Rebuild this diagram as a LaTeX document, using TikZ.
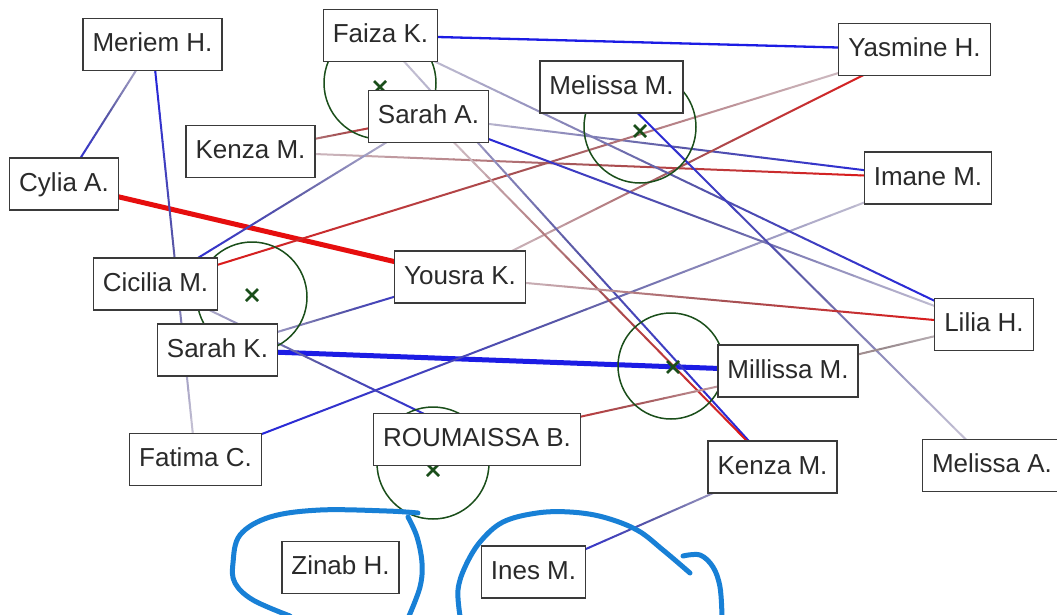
\documentclass[tikz,border=0pt]{standalone}
\usepackage{fontspec}
\setmainfont{Liberation Sans}
\usetikzlibrary{calc}

\pgfdeclarelayer{paper}
\pgfdeclarelayer{edges}
\pgfdeclarelayer{rings}
\pgfdeclarelayer{pen}
\pgfsetlayers{paper,edges,rings,main,pen}

\definecolor{lnblue}{RGB}{28,28,228}
\definecolor{lnred}{RGB}{230,14,14}
\definecolor{lngray}{RGB}{214,210,218}
\definecolor{lnrose}{RGB}{196,160,160}
\definecolor{ringgreen}{RGB}{26,78,26}
\definecolor{penblue}{RGB}{24,128,214}
\definecolor{boxline}{RGB}{58,58,58}
\definecolor{boxtext}{RGB}{42,42,42}

\tikzset{
  person/.style={draw=boxline, line width=1.4pt, fill=white, text=boxtext,
    font=\fontsize{26}{30}\selectfont, inner xsep=9.5pt, inner ysep=0pt,
    text height=19pt, text depth=5pt, minimum height=52pt},
  link/.style={line width=2pt, line cap=round},
  strong/.style={line width=5pt, line cap=round},
  ring/.style={draw=ringgreen, line width=1.5pt},
  crossmark/.style={draw=ringgreen, line width=2.6pt},
  penstroke/.style={draw=penblue, line width=5pt, line cap=round, line join=round}
}

% link whose colour runs from #3 (at node #1) through a darker blend to #4 (at node #2)
\newcommand{\gradedge}[4]{%
  \colorlet{gradmid}{#3!50!#4!74!black}%
  \foreach \k in {1,...,30}{%
    \pgfmathsetmacro{\ta}{(\k-1)/30}%
    \pgfmathsetmacro{\tb}{\k/30}%
    \ifnum\k<16
      \pgfmathtruncatemacro{\pc}{100-200*(\k-0.5)/30}%
      \colorlet{gradseg}{#3!\pc!gradmid}%
    \else
      \pgfmathtruncatemacro{\pc}{200-200*(\k-0.5)/30}%
      \colorlet{gradseg}{gradmid!\pc!#4}%
    \fi
    \draw[link, color=gradseg]
      ($(#1.center)!\ta!(#2.center)$) -- ($(#1.center)!\tb!(#2.center)$);%
  }%
}

% small cross marking the middle of a ring
\newcommand{\ringcross}[1]{%
  \draw[crossmark] #1 ++(-6,-6) -- ++(12,12) #1 ++(-6,6) -- ++(12,-12);%
}

\begin{document}
\begin{tikzpicture}[x=1pt, y=-1pt]
\useasboundingbox (0,0) rectangle (1057,614);
\begin{pgfonlayer}{paper}
  \fill[white] (0,0) rectangle (1057,614);
\end{pgfonlayer}

% people
\node[person] (meriem)    at (152.5,44.5) {Meriem H.};
\node[person] (faiza)     at (380.5,35.5) {Faiza K.};
\node[person] (yasmine)   at (914.5,49.5) {Yasmine H.};
\node[person] (melissam)  at (611.5,87)   {Melissa M.};
\node[person] (saraha)    at (428.5,116.5) {Sarah A.};
\node[person] (kenzat)    at (250.5,151.5) {Kenza M.};
\node[person] (cylia)     at (64,184)     {Cylia A.};
\node[person] (imane)     at (928,178)    {Imane M.};
\node[person] (cicilia)   at (155.5,284)  {Cicilia M.};
\node[person] (yousra)    at (460,277)    {Yousra K.};
\node[person] (sarahk)    at (217.5,350)  {Sarah K.};
\node[person] (lilia)     at (984,324.5)  {Lilia H.};
\node[person] (millissa)  at (788,371)    {Millissa M.};
\node[person] (fatima)    at (195.5,459.5) {Fatima C.};
\node[person] (roumaissa) at (477,439.5)  {ROUMAISSA B.};
\node[person] (kenzab)    at (772.5,467)  {Kenza M.};
\node[person] (melissaa)  at (992,465.5)  {Melissa A.};
\node[person] (zinab)     at (340.5,567.5) {Zinab H.};
\node[person] (ines)      at (533.5,572)  {Ines M.};

% links
\begin{pgfonlayer}{edges}
  \draw[strong, lnred] (cylia.center) -- (yousra.center);
  \draw[strong, lnblue] (sarahk.center) -- (millissa.center);
  \draw[link, lnblue, line width=2.3pt] (faiza.center) -- (yasmine.center);
  \gradedge{meriem}{cylia}{lngray}{lnblue}
  \gradedge{meriem}{fatima}{lnblue}{lngray}
  \gradedge{kenzat}{saraha}{lngray}{lnred}
  \gradedge{kenzat}{imane}{lngray}{lnred}
  \gradedge{saraha}{imane}{lngray}{lnblue}
  \gradedge{cicilia}{yasmine}{lnred}{lngray}
  \gradedge{yousra}{yasmine}{lngray}{lnred}
  \gradedge{imane}{fatima}{lngray}{lnblue}
  \gradedge{cicilia}{saraha}{lnblue}{lngray}
  \gradedge{saraha}{lilia}{lnblue}{lngray}
  \gradedge{faiza}{lilia}{lngray}{lnblue}
  \gradedge{melissam}{melissaa}{lnblue}{lngray}
  \gradedge{faiza}{kenzab}{lngray}{lnblue}
  \gradedge{saraha}{kenzab}{lngray}{lnred}
  \gradedge{yousra}{lilia}{lngray}{lnred}
  \gradedge{millissa}{roumaissa}{lngray}{lnred}
  \gradedge{millissa}{lilia}{lnrose}{lngray}
  \gradedge{sarahk}{yousra}{lngray}{lnblue}
  \gradedge{cicilia}{roumaissa}{lngray}{lnblue}
  \gradedge{kenzab}{ines}{lngray}{lnblue}
\end{pgfonlayer}

% green rings with their centres
\begin{pgfonlayer}{rings}
  \draw[ring] (380,83) circle[radius=56pt];
  \ringcross{(380,87)}
  \draw[ring] (640,127) circle[radius=56pt];
  \ringcross{(640,131)}
  \draw[ring] (252,297) circle[radius=55pt];
  \ringcross{(252,295)}
  \draw[ring] (671,366) circle[radius=53pt];
  \ringcross{(673,367)}
  \draw[ring] (433,463) circle[radius=56pt];
  \ringcross{(433,470)}
\end{pgfonlayer}

% hand-drawn loops
\begin{pgfonlayer}{pen}
  \draw[penstroke] plot[smooth, tension=0.6] coordinates
    {(418,513) (387,511) (320,510) (270,517) (240,535) (233,563) (235,583) (253,600) (290,616)};
  \draw[penstroke] plot[smooth, tension=0.6] coordinates
    {(408,517) (417,537) (422,563) (420,587) (409,616)};
  \draw[penstroke] plot[smooth, tension=0.6] coordinates
    {(690,573) (663,550) (637,530) (603,517) (570,512) (537,513) (503,522) (480,542) (465,567) (458,590) (460,616)};
  \draw[penstroke] plot[smooth, tension=0.6] coordinates
    {(683,556) (700,555) (713,567) (720,587) (722,616)};
\end{pgfonlayer}
\end{tikzpicture}
\end{document}
